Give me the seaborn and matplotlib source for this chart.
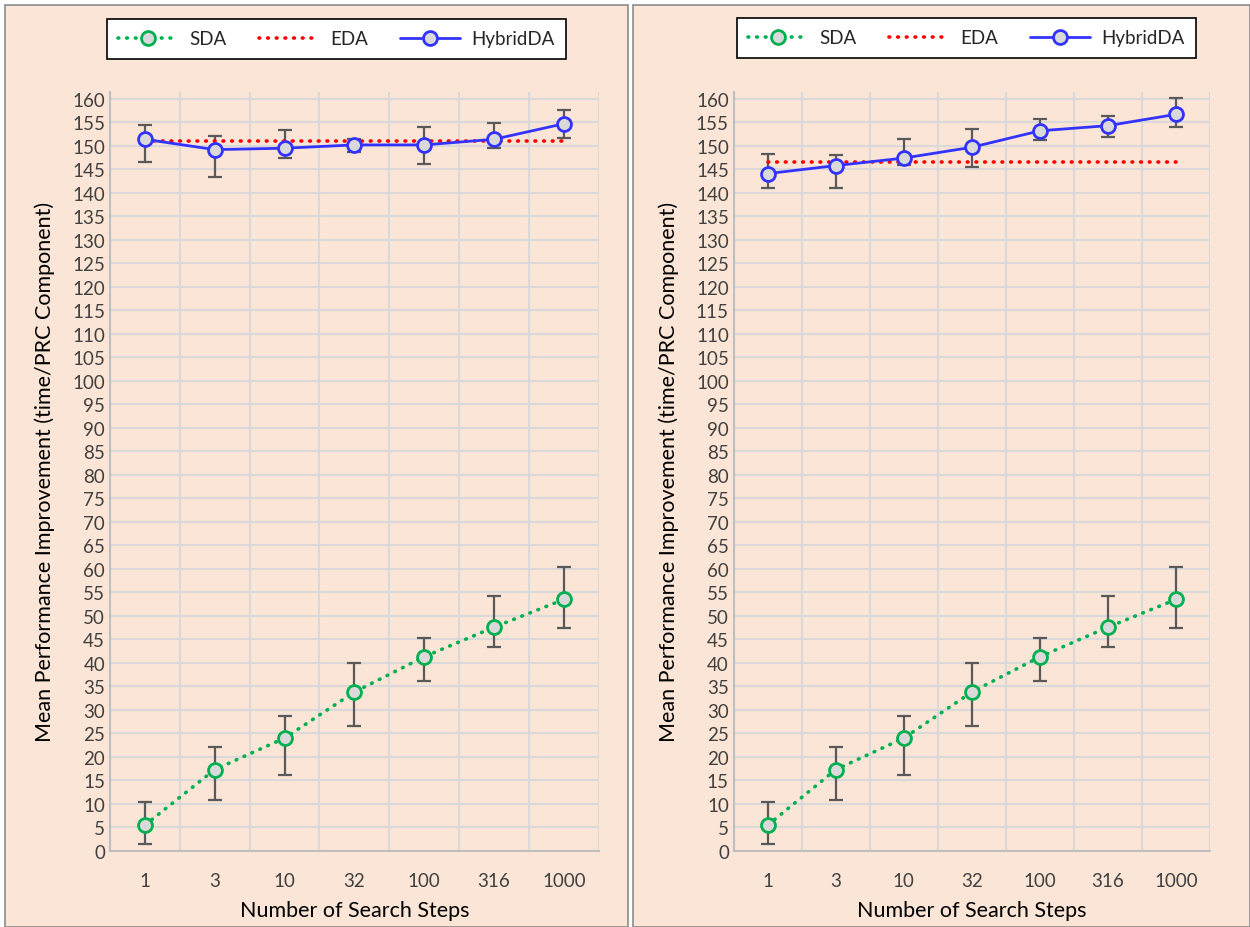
import matplotlib
matplotlib.use('Agg')
import matplotlib.pyplot as plt
import seaborn as sns
import numpy as np
from matplotlib.lines import Line2D
from matplotlib.patches import Rectangle

# данные
steps = ['1', '3', '10', '32', '100', '316', '1000']

sda_mean = [5.5, 17.3, 24.0, 33.8, 41.3, 47.6, 53.5]
sda_low = [1.4, 10.8, 16.2, 26.5, 36.2, 43.3, 47.4]
sda_high = [10.5, 22.0, 28.6, 40.0, 45.3, 54.3, 60.4]

left_hyb_mean = [151.4, 149.2, 149.5, 150.2, 150.2, 151.4, 154.7]
left_hyb_low = [146.6, 143.4, 147.4, 148.7, 146.2, 149.6, 151.7]
left_hyb_high = [154.5, 152.2, 153.4, 151.5, 154.0, 154.8, 157.6]
left_eda = [151.0, 151.0, 151.0, 151.0, 151.0, 151.0, 151.0]

right_hyb_mean = [144.1, 145.8, 147.4, 149.7, 153.2, 154.3, 156.7]
right_hyb_low = [141.1, 141.0, 146.0, 145.6, 151.2, 151.9, 154.0]
right_hyb_high = [148.2, 148.1, 151.5, 153.5, 155.7, 156.4, 160.1]
right_eda = [146.6, 146.6, 146.6, 146.6, 146.6, 146.6, 146.6]

BG = '#FBE5D6'
GREEN = '#00B050'
RED = '#FF0000'
BLUE = '#3333FF'
FILL = '#D9D9D9'
ERR = '#595959'
GRID = '#D9D9D9'

sns.set_theme(style='whitegrid')
plt.rcParams['font.family'] = ['Lato', 'DejaVu Sans']

fig = plt.figure(figsize=(12.5, 9.28), dpi=100)
fig.patch.set_facecolor('white')

# фон двух панелей
fig.patches.append(Rectangle((0.004, 0.0), 0.498, 0.994, transform=fig.transFigure,
                             facecolor=BG, edgecolor='#8C8C8C', lw=1.2, zorder=-10))
fig.patches.append(Rectangle((0.506, 0.0), 0.494, 0.994, transform=fig.transFigure,
                             facecolor=BG, edgecolor='#8C8C8C', lw=1.2, zorder=-10))


def draw_panel(ax, hyb_mean, hyb_low, hyb_high, eda):
    pos = np.arange(len(steps))
    ax.set_facecolor('none')

    # линии сетки
    ax.set_yticks(np.arange(0, 161, 5))
    ax.set_xticks(pos)
    ax.set_xticks(np.arange(len(steps) + 1) - 0.5, minor=True)
    ax.grid(False)
    ax.yaxis.grid(True, which='major', color=GRID, lw=1.5)
    ax.xaxis.grid(True, which='minor', color=GRID, lw=1.5)

    # планки погрешностей
    sda_err = [np.array(sda_mean) - np.array(sda_low), np.array(sda_high) - np.array(sda_mean)]
    hyb_err = [np.array(hyb_mean) - np.array(hyb_low), np.array(hyb_high) - np.array(hyb_mean)]
    ax.errorbar(pos, sda_mean, yerr=sda_err, fmt='none', ecolor=ERR, elinewidth=1.6,
                capsize=5, capthick=1.6, zorder=3)
    ax.errorbar(pos, hyb_mean, yerr=hyb_err, fmt='none', ecolor=ERR, elinewidth=1.6,
                capsize=5, capthick=1.6, zorder=3)

    sns.lineplot(x=pos, y=sda_mean, ax=ax, color=GREEN, lw=2.6, linestyle=(0, (0.2, 2.2)),
                 dash_capstyle='round', marker='o', markersize=10, markerfacecolor=FILL,
                 markeredgecolor=GREEN, markeredgewidth=2, legend=False, zorder=4)
    sns.lineplot(x=pos, y=eda, ax=ax, color=RED, lw=2.6, linestyle=(0, (0.2, 2.2)),
                 dash_capstyle='round', legend=False, zorder=4)
    sns.lineplot(x=pos, y=hyb_mean, ax=ax, color=BLUE, lw=2, marker='o', markersize=10,
                 markerfacecolor=FILL, markeredgecolor=BLUE, markeredgewidth=2,
                 legend=False, zorder=5)

    ax.set_xlim(-0.5, len(steps) - 0.5)
    ax.set_ylim(0, 161.5)
    ax.set_xticklabels(steps)
    ax.tick_params(axis='both', length=0, labelsize=13.5, labelcolor='#404040')
    ax.tick_params(axis='x', pad=15)
    for side in ['top', 'right']:
        ax.spines[side].set_visible(False)
    for side in ['left', 'bottom']:
        ax.spines[side].set_color('#BFBFBF')
        ax.spines[side].set_linewidth(1.5)
    ax.set_xlabel('Number of Search Steps', fontsize=15.5, color='black', labelpad=8)
    ax.set_ylabel('Mean Performance Improvement (time/PRC Component)', fontsize=15.5,
                  color='black', labelpad=12)


def add_legend(ax, x_center, y_center):
    handles = [
        Line2D([], [], color=GREEN, lw=2.6, linestyle=(0, (0.2, 2.2)), dash_capstyle='round',
               marker='o', markersize=10, markerfacecolor=FILL, markeredgecolor=GREEN,
               markeredgewidth=2),
        Line2D([], [], color=RED, lw=2.6, linestyle=(0, (0.2, 2.2)), dash_capstyle='round'),
        Line2D([], [], color=BLUE, lw=2, marker='o', markersize=10, markerfacecolor=FILL,
               markeredgecolor=BLUE, markeredgewidth=2),
    ]
    leg = ax.legend(handles, ['SDA', 'EDA', 'HybridDA'], ncol=3, loc='center',
                    bbox_to_anchor=(x_center, y_center), bbox_transform=fig.transFigure,
                    fontsize=13.5, frameon=True, fancybox=False, handlelength=3.2,
                    columnspacing=1.7, borderpad=0.6, handletextpad=0.6)
    leg.get_frame().set_edgecolor('black')
    leg.get_frame().set_linewidth(1.2)
    leg.get_frame().set_facecolor('white')
    leg.get_frame().set_alpha(1)


ax1 = fig.add_axes([0.088, 0.082, 0.391, 0.818])
ax2 = fig.add_axes([0.587, 0.082, 0.381, 0.818])

draw_panel(ax1, left_hyb_mean, left_hyb_low, left_hyb_high, left_eda)
draw_panel(ax2, right_hyb_mean, right_hyb_low, right_hyb_high, right_eda)

add_legend(ax1, 0.269, 0.957)
add_legend(ax2, 0.773, 0.958)

fig.savefig('out.png', dpi=100, facecolor=fig.get_facecolor())
